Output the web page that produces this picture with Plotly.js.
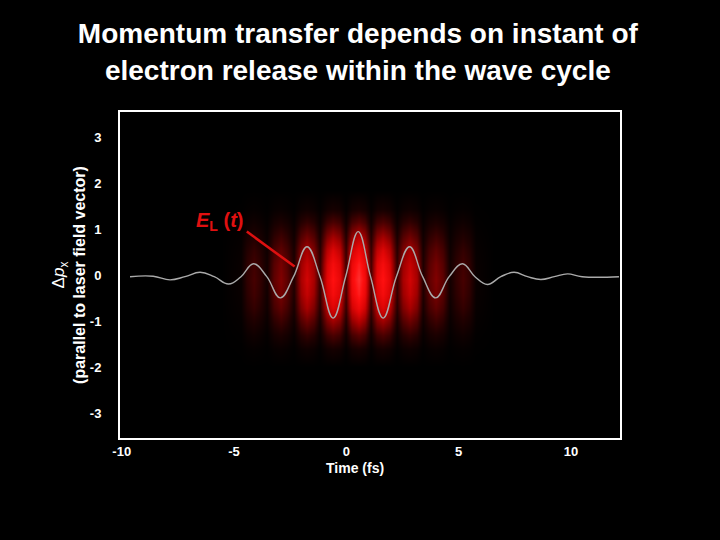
<!DOCTYPE html>
<html>
<head>
<meta charset="utf-8">
<script src="https://cdn.plot.ly/plotly-3.0.1.min.js"></script>
<style>html,body{margin:0;padding:0;background:#000;}#chart{width:720px;height:540px;}</style>
</head>
<body>
<div id="chart"></div>
<script>
// Field E_L(t): points (time in fs, value in axis units)
var waveT = [-9.63, -8.6, -7.85, -7.18, -6.51, -5.88, -5.24, -4.69, -4.13, -3.54, -2.94, -2.35, -1.75, -1.17, -0.59, -0.03, 0.53, 1.08, 1.64, 2.23, 2.82, 3.40, 3.98, 4.58, 5.17, 5.73, 6.28, 6.88, 7.47, 8.07, 8.66, 9.26, 9.85, 10.5, 12.14];
var waveV = [-0.03, -0.02, -0.10, -0.03, 0.065, -0.03, -0.19, -0.03, 0.25, -0.03, -0.49, -0.03, 0.62, -0.03, -0.93, -0.03, 0.95, -0.03, -0.93, -0.03, 0.62, -0.03, -0.49, -0.03, 0.25, -0.03, -0.20, -0.03, 0.065, -0.03, -0.09, -0.03, 0.03, -0.03, -0.03];

// Electron momentum density: brightness of the red stripes along time
var heatT = [-5.6, -4.72, -4.43, -4.13, -3.83, -3.54, -3.24, -2.94, -2.64, -2.35, -2.05, -1.75, -1.45, -1.17, -0.89, -0.59, -0.29, -0.03, 0.23, 0.53, 0.83, 1.08, 1.34, 1.64, 1.94, 2.23, 2.52, 2.82, 3.12, 3.40, 3.68, 3.98, 4.28, 4.58, 4.87, 5.17, 5.47, 5.76, 6.6];
var heatI = [0, 0.03, 0.14, 0.2, 0.14, 0.06, 0.26, 0.35, 0.26, 0.1, 0.45, 0.6, 0.45, 0.15, 0.66, 0.86, 0.7, 0.2, 0.78, 1.0, 0.78, 0.2, 0.7, 0.86, 0.66, 0.15, 0.45, 0.6, 0.45, 0.1, 0.26, 0.35, 0.26, 0.06, 0.14, 0.2, 0.14, 0.03, 0];
// and its fall-off across momentum
var heatV = [-2.0, -1.6, -1.3, -1.0, -0.7, -0.4, -0.08, 0.25, 0.55, 0.85, 1.15, 1.45, 1.85];
var heatP = [0, 0.08, 0.25, 0.5, 0.75, 0.92, 1, 0.92, 0.75, 0.5, 0.25, 0.08, 0];

var xTicks = [-10, -5, 0, 5, 10];
var xTickText = ['-10', '-5', '0', '5', '10'];
var yTicks = [-3, -2, -1, 0, 1, 2, 3];
var yTickText = ['-3', '-2', '-1', '0', '1', '2', '3'];

var z = heatV.map(function(p, j){ return heatI.map(function(v){ return v * heatP[j]; }); });

var font = 'Liberation Sans, Arial, sans-serif';

var traces = [
  {
    type: 'heatmap', x: heatT, y: heatV, z: z, zmin: 0, zmax: 1, zsmooth: 'best',
    showscale: false, hoverinfo: 'skip',
    colorscale: [[0,'#000000'],[0.1,'#200000'],[0.25,'#5a0000'],[0.45,'#a80000'],[0.65,'#e00606'],[0.85,'#ff1010'],[1,'#ff3030']]
  },
  {
    type: 'scatter', mode: 'lines', x: waveT, y: waveV,
    line: {color: '#aaaaaa', width: 1.4, shape: 'spline', smoothing: 1.2},
    showlegend: false
  }
];

var layout = {
  width: 720, height: 540,
  paper_bgcolor: '#000000', plot_bgcolor: '#000000',
  margin: {l: 120, r: 100, t: 112, b: 102},
  showlegend: false,
  title: {
    text: 'Momentum transfer depends on instant of<br>electron release within the wave cycle',
    font: {family: font, size: 28, color: '#ffffff', weight: 'bold'},
    x: 0.497, xanchor: 'center', xref: 'container', y: 0.92, yanchor: 'top'
  },
  xaxis: {
    range: [-10.076, 12.186], tickvals: xTicks, ticktext: xTickText, ticks: '', showgrid: false, zeroline: false,
    showline: true, linecolor: '#ffffff', linewidth: 2, mirror: true,
    tickfont: {family: font, size: 13, color: '#ffffff', weight: 'bold'}
  },
  yaxis: {
    range: [-3.537, 3.55], tickvals: yTicks, ticktext: yTickText, ticks: '', showgrid: false, zeroline: false,
    showline: true, linecolor: '#ffffff', linewidth: 2, mirror: true,
    ticklabelstandoff: 14,
    tickfont: {family: font, size: 13, color: '#ffffff', weight: 'bold'},
    title: {text: '<span style="font-size:17px">Δ<i>p</i><sub>x</sub></span><br><b>(parallel to laser field vector)</b>', font: {family: font, size: 16, color: '#ffffff'}, standoff: 0}
  },
  shapes: [
    {type: 'line', xref: 'x', yref: 'y', x0: -4.43, y0: 0.95, x1: -2.30, y1: 0.19, line: {color: '#dd1010', width: 2.5}}
  ],
  annotations: [
    {xref: 'x', yref: 'y', x: -5.64, y: 1.17, showarrow: false,
     text: '<b><i>E</i></b><b><sub>L</sub></b><b> (<i>t</i>)</b>',
     font: {family: font, size: 20, color: '#e01010'}},
    {xref: 'paper', yref: 'paper', x: 0.47, y: -0.092, showarrow: false, yanchor: 'middle', xanchor: 'center',
     text: '<b>Time (fs)</b>',
     font: {family: font, size: 14, color: '#ffffff'}}
  ]
};

Plotly.newPlot('chart', traces, layout, {displayModeBar: false, staticPlot: true});
</script>
</body>
</html>
